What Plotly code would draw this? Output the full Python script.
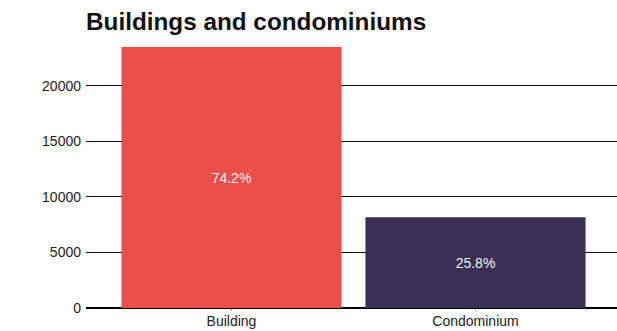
import plotly.graph_objects as go

# Counts by property type
categories = ["Building", "Condominium"]
counts = [23500, 8170]
bar_colors = ["#EB5048", "#3A3055"]
y_ticks = [0, 5000, 10000, 15000, 20000]
y_tick_labels = ["0", "5000", "10000", "15000", "20000"]

total = sum(counts)
shares = [f"{100 * c / total:.1f}%" for c in counts]

W, H = 617, 331
left, right, top, bottom = 86, 0, 47, 23

fig = go.Figure(
    go.Bar(
        x=[0, 1],
        y=counts,
        marker=dict(color=bar_colors, line=dict(width=0)),
        text=shares,
        textposition="inside",
        insidetextanchor="middle",
        textfont=dict(color="#F4F4F4", size=14, family="Liberation Sans, Arial, sans-serif"),
        width=0.902,
        hoverinfo="skip",
    )
)

# one category band = 244 px; first band centre sits 145.5 px right of the plot's left edge
band_px = 244
x0 = -145.5 / band_px
x1 = x0 + (W - left - right) / band_px

fig.update_layout(
    width=W,
    height=H,
    margin=dict(l=left, r=right, t=top, b=bottom, pad=0),
    paper_bgcolor="white",
    plot_bgcolor="white",
    showlegend=False,
    font=dict(family="Liberation Sans, Arial, sans-serif", color="#222", size=14),
    title=dict(
        text="<b>Buildings and condominiums</b>",
        font=dict(size=24.3, color="#111"),
        xref="container",
        yref="container",
        x=86 / W,
        xanchor="left",
        y=1 - 21 / H,
        yanchor="middle",
        pad=dict(l=0, r=0, t=0, b=0),
    ),
    xaxis=dict(
        range=[x0, x1],
        tickvals=[0, 1],
        ticktext=categories,
        showgrid=False,
        zeroline=False,
        showline=False,
        ticks="outside",
        ticklen=2,
        tickcolor="#999",
        ticklabelstandoff=-2,
        tickfont=dict(size=14, color="#222"),
        fixedrange=True,
    ),
    yaxis=dict(
        range=[0, counts[0]],
        tickvals=y_ticks,
        ticktext=y_tick_labels,
        showgrid=True,
        gridcolor="#111",
        gridwidth=1,
        zeroline=True,
        zerolinecolor="#000",
        zerolinewidth=2,
        showline=False,
        ticks="",
        ticklabelstandoff=4,
        tickfont=dict(size=14, color="#222"),
        fixedrange=True,
    ),
    bargap=0.098,
)

fig.write_html("out.html")
